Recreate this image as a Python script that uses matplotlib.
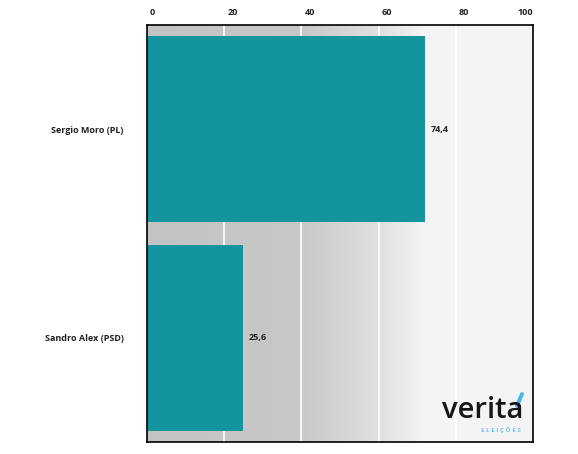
import numpy as np
import matplotlib
matplotlib.use("Agg")
import matplotlib.pyplot as plt
import matplotlib.transforms as mtransforms
from matplotlib.lines import Line2D

candidates = ["Sergio Moro (PL)", "Sandro Alex (PSD)"]
values = [74.4, 25.6]
value_labels = ["74,4", "25,6"]
tick_values = [0, 20, 40, 60, 80, 100]
tick_labels = ["0", "20", "40", "60", "80", "100"]

scale = 1.033  # bar scale relative to gridline scale in the reference
bar_color = "#14959d"

plt.rcParams['font.family'] = ['Open Sans', 'DejaVu Sans']

fig = plt.figure(figsize=(5.78, 4.54), dpi=100)
ax = fig.add_axes([147/578, 1-442/454, (533-147)/578, (442-25)/454])

xmax = 100 * scale
ax.set_xlim(0, xmax)
ax.set_ylim(1.5, -0.5)

# background gradient
xs = np.linspace(0, 1, 600)
prof_x = [0, 0.40, 0.60, 0.72, 1.0]
prof_v = [195, 200, 224, 244, 245]
g = np.interp(xs, prof_x, prof_v) / 255.0
img = np.zeros((1, len(xs), 3))
img[0, :, 0] = g
img[0, :, 1] = g
img[0, :, 2] = np.minimum(g + np.where(xs > 0.6, (xs - 0.6) * 0.02, 0), 1)
ax.imshow(img, extent=[0, 1, 0, 1], transform=ax.transAxes, aspect='auto', zorder=0)

tick_pos = [t * scale for t in tick_values]
tick_pos[-1] = xmax
for p in tick_pos[1:-1]:
    ax.axvline(p, color='white', lw=1.2, zorder=1)

y = np.arange(len(candidates))
ax.barh(y, values, height=0.89, color=bar_color, zorder=2)
for yi, v, lab in zip(y, values, value_labels):
    ax.text(v + 1.5, yi, lab, va='center', ha='left', fontsize=6.5,
            fontweight='bold', color='#222222', zorder=3)

ax.xaxis.tick_top()
ax.set_xticks(tick_pos)
ax.set_xticklabels(tick_labels, fontsize=6.5, fontweight='bold', color='#222222')
ax.tick_params(axis='x', length=0, pad=5.5)
offset = mtransforms.ScaledTranslation(3/100, 0, fig.dpi_scale_trans)
xl = ax.get_xticklabels()
for lbl in xl[:-1]:
    lbl.set_horizontalalignment('left')
    lbl.set_transform(lbl.get_transform() + offset)
xl[-1].set_horizontalalignment('right')

ax.set_yticks(y)
ax.set_yticklabels(candidates, fontsize=6.5, fontweight='bold', color='#222222')
ax.tick_params(axis='y', length=0, pad=17)

for s in ax.spines.values():
    s.set_color('black')
    s.set_linewidth(1.2)

# logo
fig.text(442/578, 1-418/454, "verita", fontsize=21, fontweight='semibold',
         family=['Open Sans', 'DejaVu Sans'], color='#161616',
         ha='left', va='baseline')
fig.add_artist(Line2D([517/578, 522/578], [1-406/454, 1-394/454],
                      transform=fig.transFigure, color='#46b6ec', lw=2.8,
                      solid_capstyle='round'))
fig.text(501/578, 1-430/454, "E L E I Ç Õ E S", fontsize=4.5, fontweight='bold',
         color='#6cc6f2', ha='center', va='center')

fig.savefig("out.png", dpi=100)
